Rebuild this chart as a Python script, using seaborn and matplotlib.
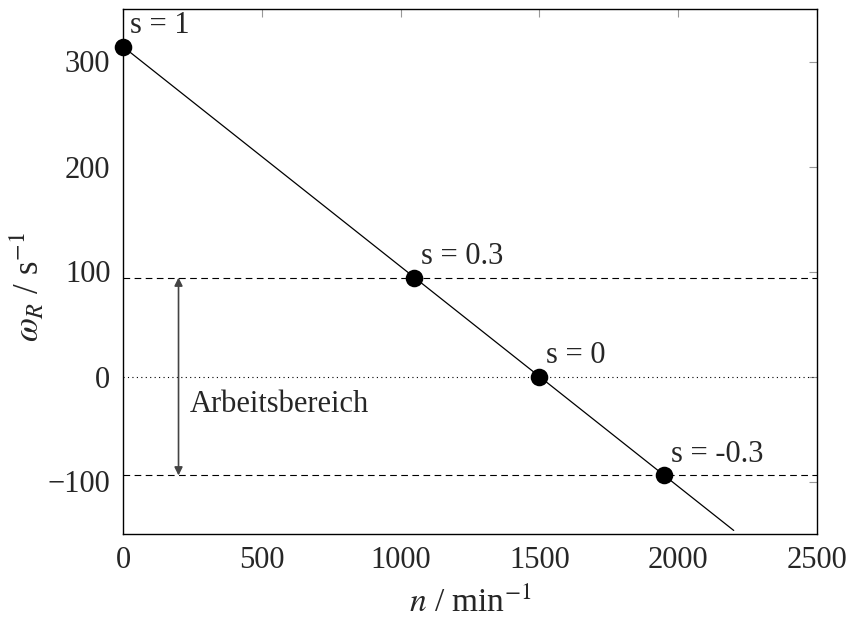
import numpy as np
import pandas as pd
import matplotlib
matplotlib.use("Agg")
import matplotlib.pyplot as plt
import seaborn as sns

# data
n_line = [0, 2200]
omega_line = [314.16, -146.61]
n_points = [0, 1050, 1500, 1950]
omega_points = [314.16, 94.25, 0.0, -94.25]
point_labels = ["s = 1", "s = 0.3", "s = 0", "s = -0.3"]
band_levels = [94.25, -94.25]
x_ticks = [0, 500, 1000, 1500, 2000, 2500]
y_ticks = [-100, 0, 100, 200, 300]

sns.set_style("white")
plt.rcParams['font.family'] = ['Liberation Serif', 'DejaVu Serif']
plt.rcParams['mathtext.fontset'] = 'stix'
plt.rcParams['font.size'] = 22

FS = 22
fig = plt.figure(figsize=(8.5, 6.17), dpi=100)
ax = fig.add_axes([123/850, 1-534/617, (817-123)/850, (534-9)/617])

line_df = pd.DataFrame({"n": n_line, "omega": omega_line})
pts_df = pd.DataFrame({"n": n_points, "omega": omega_points})

for lv in band_levels:
    ax.axhline(lv, color='black', lw=0.8, ls=(0, (6, 4)), zorder=1)
ax.axhline(0, color='black', lw=0.8, ls=(0, (1, 3)), zorder=1)

sns.lineplot(data=line_df, x="n", y="omega", color='black', lw=0.9, ax=ax, zorder=2)
sns.scatterplot(data=pts_df, x="n", y="omega", color='black', s=160, edgecolor='black',
                linewidth=0, ax=ax, zorder=3, clip_on=False)

for xv, yv, lab in zip(n_points, omega_points, point_labels):
    ax.annotate(lab, (xv, yv), xytext=(7, 21), textcoords='offset pixels',
                ha='left', va='center', fontsize=FS)

ax.annotate("", xy=(200, band_levels[0]), xytext=(200, band_levels[1]),
            arrowprops=dict(arrowstyle='<|-|>', color='#444444', lw=1.2,
                            mutation_scale=12, shrinkA=0, shrinkB=0))
ax.text(240, -27, "Arbeitsbereich", ha='left', va='center', fontsize=FS)

ax.set_xlim(0, 2500)
ax.set_ylim(-150, 350)
ax.set_xticks(x_ticks)
ax.set_yticks(y_ticks)
ax.set_xlabel(r"$n$ / min$^{-1}$", fontsize=24, labelpad=8)
ax.set_ylabel(r"$\omega_R$ / s$^{-1}$", fontsize=25, va='center')
ax.yaxis.set_label_coords(-130/694 + 0.05, 0.47)
ax.tick_params(direction='in', length=6, width=0.8, color='#999999',
               top=True, right=True, labelsize=FS, pad=9)
for sp in ax.spines.values():
    sp.set_color('black')
    sp.set_linewidth(1.0)
    sp.set_visible(True)

fig.savefig("out.png", dpi=100)
